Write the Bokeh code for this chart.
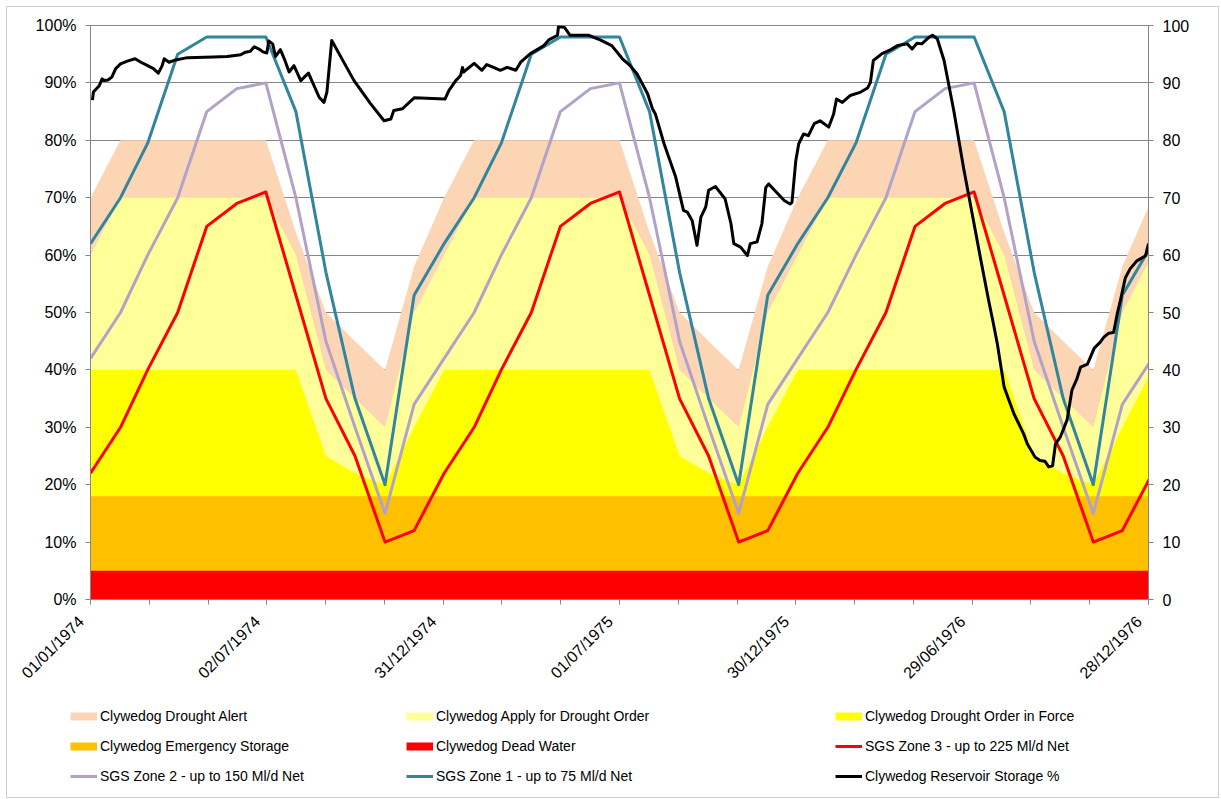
import math
import numpy as np
import pandas as pd
from bokeh.plotting import figure
from bokeh.layouts import column
from bokeh.models import (Range1d, LinearAxis, FixedTicker, DatetimeTickFormatter,
                          PrintfTickFormatter, Legend, LegendItem)
from bokeh.embed import file_html
from bokeh.resources import INLINE

# ---------------- data ----------------
# control-curve vertices: first day of each month, Jan 1974 .. Jan 1977
curve_dates = pd.date_range("1974-01-01", periods=37, freq="MS")

drought_alert = [70, 80, 80, 80, 80, 80, 80, 64, 50, 45, 40, 58,
                 70, 80, 80, 80, 80, 80, 80, 64, 50, 45, 40, 58,
                 70, 80, 80, 80, 80, 80, 80, 64, 50, 45, 40, 58, 70]
apply_order = [60, 70, 70, 70, 70, 70, 70, 60, 40, 35, 30, 50,
               60, 70, 70, 70, 70, 70, 70, 60, 40, 35, 30, 50,
               60, 70, 70, 70, 70, 70, 70, 60, 40, 35, 30, 50, 60]
order_in_force = [40, 40, 40, 40, 40, 40, 40, 40, 25, 22, 20, 30,
                  40, 40, 40, 40, 40, 40, 40, 40, 25, 22, 20, 30,
                  40, 40, 40, 40, 40, 40, 40, 40, 25, 22, 20, 30, 40]
emergency_storage = [18] * 37
dead_water = [5] * 37

zone3 = [22, 30, 40, 50, 65, 69, 71, 53, 35, 25, 10, 12,
         22, 30, 40, 50, 65, 69, 71, 53, 35, 25, 10, 12,
         22, 30, 40, 50, 65, 69, 71, 53, 35, 25, 10, 12, 22]
zone2 = [42, 50, 60, 70, 85, 89, 90, 70, 45, 30, 15, 34,
         42, 50, 60, 70, 85, 89, 90, 70, 45, 30, 15, 34,
         42, 50, 60, 70, 85, 89, 90, 70, 45, 30, 15, 34, 42]
zone1 = [62, 70, 79.5, 95, 98, 98, 98, 85, 57, 35, 20, 53,
         62, 70, 79.5, 95, 98, 98, 98, 85, 57, 35, 20, 53,
         62, 70, 79.5, 95, 98, 98, 98, 85, 57, 35, 20, 53, 62]

# reservoir storage: day number counted from 01/01/1974, and storage %
storage_day = [2, 3, 9, 12, 14, 18, 22, 26, 31, 38, 46, 52, 59, 65, 70, 74, 76, 81, 88,
               100, 127, 141, 155, 160, 165, 169, 174, 178, 182, 184, 188, 191, 196,
               200, 205, 210, 217, 225, 230, 236, 241, 244, 249, 272, 289, 303, 310,
               313, 322, 334, 366, 370, 377, 382, 384, 385, 396, 404, 409, 416, 423,
               430, 439, 444, 454, 468, 473, 482, 483, 489, 495, 514, 526, 538, 549,
               557, 564, 575, 580, 583, 592, 604, 612, 616, 621, 626, 630, 635, 638,
               645, 655, 661, 664, 671, 678, 681, 688, 693, 697, 700, 716, 722, 724,
               728, 731, 736, 741, 747, 753, 762, 767, 770, 776, 784, 795, 802, 805,
               808, 817, 826, 833, 843, 848, 853, 858, 865, 869, 874, 881, 891, 901,
               910, 919, 927, 932, 936, 943, 953, 963, 967, 975, 980, 985, 989, 993,
               996, 1001, 1008, 1013, 1018, 1022, 1029, 1036, 1042, 1046, 1051, 1056,
               1060, 1063, 1068, 1073, 1080, 1089, 1092]
storage_pct = [87.0, 88.4, 89.5, 90.7, 90.4, 90.5, 91.0, 92.5, 93.3, 93.8, 94.2, 93.6, 93.0,
               92.5, 91.7, 93.0, 94.2, 93.6, 94.0,
               94.4, 94.5, 94.6, 94.9, 95.35, 95.5, 96.3, 95.9, 95.4, 95.2, 97.3, 96.8, 94.6, 95.8,
               94.2, 91.9, 93.0, 90.4, 91.7, 89.8, 87.5, 86.6, 88.4, 97.4, 90.4, 86.4, 83.4, 83.7,
               85.2, 85.5, 87.4, 87.2, 88.7, 90.4, 91.3, 92.7, 91.9, 93.4, 92.2, 93.2, 92.7, 92.2,
               92.7, 92.2, 93.6, 95.1, 96.5, 97.5, 98.3, 99.8, 99.7, 98.3, 98.3, 97.5, 96.5, 94.2,
               93.0, 91.6, 88.1, 85.5, 84.6, 79.4, 73.6, 67.8, 67.5, 66.0, 61.7, 66.6, 68.4, 71.3,
               71.95, 69.8, 65.5, 62.0, 61.4, 59.9, 62.0, 62.3, 65.5, 71.8, 72.4, 69.5, 68.9, 69.2,
               76.5, 79.4, 81.1, 80.8, 82.9, 83.4, 82.3, 84.6, 87.2, 86.6, 87.8, 88.4, 89.1, 90.1,
               93.9, 95.1, 95.8, 96.5, 96.8, 95.9, 96.9, 96.8, 97.9, 98.3, 97.7, 93.9, 85.2, 75.3,
               67.2, 59.1, 52.1, 48.0, 44.5, 37.0, 32.4, 28.9, 27.1, 24.8, 24.2, 24.1, 23.1, 23.3,
               27.1, 28.3, 31.3, 36.5, 38.4, 40.5, 41.0, 43.8, 44.8, 45.7, 46.4, 46.5,
               50.0, 52.1, 56.0, 57.6, 59.0, 59.9, 62.0]

axis_labels = ["01/01/1974", "02/07/1974", "31/12/1974", "01/07/1975",
               "30/12/1975", "29/06/1976", "28/12/1976"]
y_ticks = [0, 10, 20, 30, 40, 50, 60, 70, 80, 90, 100]

legend_names = ["Clywedog Drought Alert", "Clywedog Apply for Drought Order",
                "Clywedog Drought Order in Force", "Clywedog Emergency Storage",
                "Clywedog Dead Water", "SGS Zone 3 - up to 225 Ml/d Net",
                "SGS Zone 2 - up to 150 Ml/d Net", "SGS Zone 1 - up to 75 Ml/d Net",
                "Clywedog Reservoir Storage %"]

# ---------------- derived ----------------
storage_dates = pd.Timestamp("1974-01-01") + pd.to_timedelta(storage_day, unit="D")
major_dates = pd.to_datetime(axis_labels, format="%d/%m/%Y")
def ms(t):
    return float(pd.Timestamp(t).value // 10**6)
major_ms = [ms(t) for t in major_dates]
minor_ms = []
for a, b in zip(major_ms[:-1], major_ms[1:]):
    minor_ms += [a, a + (b - a) / 3, a + 2 * (b - a) / 3]
minor_ms.append(major_ms[-1])

colors = ["#FCD5B5", "#FFFF99", "#FFFF00", "#FFC000", "#FF0000",
          "#FF0000", "#B3A2C7", "#31859C", "#000000"]
font = "Liberation Sans"

# ---------------- main figure ----------------
W = 1211
H1 = 685
H2 = 105
p = figure(width=W, height=H1, output_backend="svg", toolbar_location=None,
           x_axis_type="datetime",
           x_range=Range1d(major_dates[0], major_dates[-1]),
           y_range=Range1d(0, 100),
           min_border_left=83, min_border_right=70, min_border_top=18,
           min_border_bottom=H1 - 592)
p.frame_align = False
p.background_fill_color = "white"
p.border_fill_color = "white"
p.outline_line_color = "#868686"
p.xgrid.visible = False
p.ygrid.ticker = FixedTicker(ticks=y_ticks)
p.ygrid.grid_line_color = "#868686"
p.ygrid.grid_line_width = 1

bands = [drought_alert, apply_order, order_in_force, emergency_storage, dead_water]
for vals, c in zip(bands, colors[:5]):
    p.varea(x=curve_dates, y1=0, y2=vals, fill_color=c, fill_alpha=1.0)

for vals, c in zip([zone3, zone2, zone1], colors[5:8]):
    p.line(x=curve_dates, y=vals, line_color=c, line_width=3, line_join="round")
p.line(x=storage_dates, y=storage_pct, line_color="#000000", line_width=3, line_join="round")

xa = p.xaxis[0]
xa.ticker = FixedTicker(ticks=major_ms, minor_ticks=minor_ms)
fmt = "%d/%m/%Y\u00a0\u00a0\u00a0"
xa.formatter = DatetimeTickFormatter(microseconds=fmt, milliseconds=fmt, seconds=fmt,
                                     minsec=fmt, minutes=fmt, hourmin=fmt, hours=fmt,
                                     days=fmt, months=fmt, years=fmt)
xa.major_label_orientation = math.pi / 4
xa.minor_tick_out = 5
xa.minor_tick_in = 0
xa.minor_tick_line_color = "#868686"

ya = p.yaxis[0]
ya.ticker = FixedTicker(ticks=y_ticks)
ya.formatter = PrintfTickFormatter(format="%d%%")

yr = LinearAxis(ticker=FixedTicker(ticks=y_ticks), formatter=PrintfTickFormatter(format="%d"))
p.add_layout(yr, "right")

for ax in [xa, ya, yr]:
    ax.axis_line_color = "#868686"
    ax.major_tick_line_color = "#868686"
    ax.major_tick_out = 5
    ax.major_tick_in = 0
    ax.major_label_text_font = font
    ax.major_label_text_font_size = "16px"
    ax.major_label_text_color = "#000000"
    ax.major_label_standoff = 9
xa.major_label_standoff = 5
ya.minor_tick_line_color = None
yr.minor_tick_line_color = None

# ---------------- legend figure ----------------
q = figure(width=W, height=H2, output_backend="svg", toolbar_location=None,
           x_range=Range1d(0, 1), y_range=Range1d(0, 1),
           min_border=0, min_border_left=0, min_border_right=0,
           min_border_top=0, min_border_bottom=0)
q.frame_align = False
q.xaxis.visible = False
q.yaxis.visible = False
q.grid.visible = False
q.outline_line_color = None
q.background_fill_color = "white"
q.border_fill_color = "white"

proxies = []
for i, name in enumerate(legend_names):
    lw = 8 if i < 5 else 3
    r = q.line(x=[0.5], y=[np.nan], line_color=colors[i], line_width=lw)
    proxies.append(LegendItem(label=name, renderers=[r]))

col_x = [63, 399, 828]
for c in range(3):
    items = [proxies[c], proxies[c + 3], proxies[c + 6]]
    leg = Legend(items=items, location=(col_x[c], 11), orientation="vertical",
                 padding=0, spacing=10, margin=0, glyph_width=27, glyph_height=20,
                 label_height=20, label_standoff=3, label_text_font=font,
                 label_text_font_size="14px", label_text_color="#000000",
                 border_line_alpha=0, background_fill_alpha=0)
    q.add_layout(leg, "center")

layout = column(p, q, spacing=0,
                styles={"border": "1px solid #D0D0D0", "margin-left": "6px",
                        "margin-top": "6px"})

open("out.html", "w").write(file_html(layout, INLINE))
